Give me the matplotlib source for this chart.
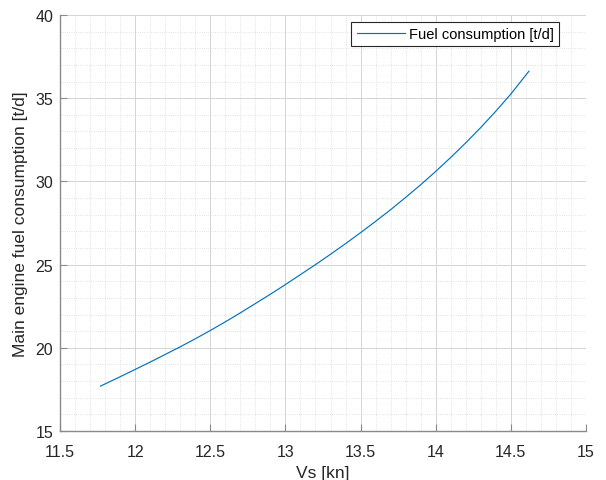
import matplotlib
matplotlib.use("Agg")
import matplotlib.pyplot as plt
from matplotlib.ticker import MultipleLocator

# Data
speed_kn = [11.77, 11.9, 12.0, 12.1, 12.2, 12.3, 12.4, 12.5, 12.6, 12.7, 12.8, 12.9,
            13.0, 13.1, 13.2, 13.3, 13.4, 13.5, 13.6, 13.7, 13.8, 13.9,
            14.0, 14.1, 14.2, 14.3, 14.4, 14.5, 14.62]
fuel_td = [17.70, 18.26, 18.70, 19.14, 19.60, 20.06, 20.54, 21.04, 21.56, 22.10, 22.66, 23.22,
           23.80, 24.40, 25.00, 25.62, 26.26, 26.92, 27.60, 28.30, 29.04, 29.80,
           30.60, 31.44, 32.32, 33.24, 34.22, 35.25, 36.62]
x_ticks = [11.5, 12, 12.5, 13, 13.5, 14, 14.5, 15]
x_tick_labels = ['11.5', '12', '12.5', '13', '13.5', '14', '14.5', '15']
y_ticks = [15, 20, 25, 30, 35, 40]

plt.rcParams['font.family'] = ['Liberation Sans', 'DejaVu Sans']

fig = plt.figure(figsize=(6.06, 4.81), dpi=100)
ax = fig.add_axes([60/606, 1 - 432/481, 526/606, 416/481])

ax.plot(speed_kn, fuel_td, color='#0072BD', lw=0.85, label='Fuel consumption [t/d]')

ax.set_xlim(11.5, 15)
ax.set_ylim(15, 40)
ax.set_xticks(x_ticks)
ax.set_xticklabels(x_tick_labels)
ax.set_yticks(y_ticks)
ax.xaxis.set_minor_locator(MultipleLocator(0.1))
ax.yaxis.set_minor_locator(MultipleLocator(1))

ax.grid(True, which='major', color='#d4d4d4', lw=0.7, ls='-')
ax.grid(True, which='minor', color='#d9d9d9', lw=0.6, ls=':')
ax.set_axisbelow(True)

for s in ['top', 'right']:
    ax.spines[s].set_visible(False)
for s in ['left', 'bottom']:
    ax.spines[s].set_color('#8a8a8a')
    ax.spines[s].set_linewidth(1.0)

ax.tick_params(which='major', direction='in', length=5, width=0.8, color='#8a8a8a',
               labelsize=11.5, labelcolor='#262626')
ax.tick_params(axis='x', which='major', pad=9.5)
ax.tick_params(axis='y', which='major', pad=5)
ax.tick_params(which='minor', length=0)

ax.set_xlabel('Vs [kn]', fontsize=12.5, color='#262626', labelpad=4)
ax.set_ylabel('Main engine fuel consumption [t/d]', fontsize=12.5, color='#262626', labelpad=5)

leg = ax.legend(loc='upper right', bbox_to_anchor=((559 - 60)/526, 1 - 7/416),
                fontsize=10.5, frameon=True, fancybox=False, framealpha=1,
                edgecolor='#262626', handlelength=3.3, borderpad=0.35, handletextpad=0.3,
                borderaxespad=0)
leg.get_frame().set_linewidth(0.8)

fig.savefig('out.png', dpi=100)
